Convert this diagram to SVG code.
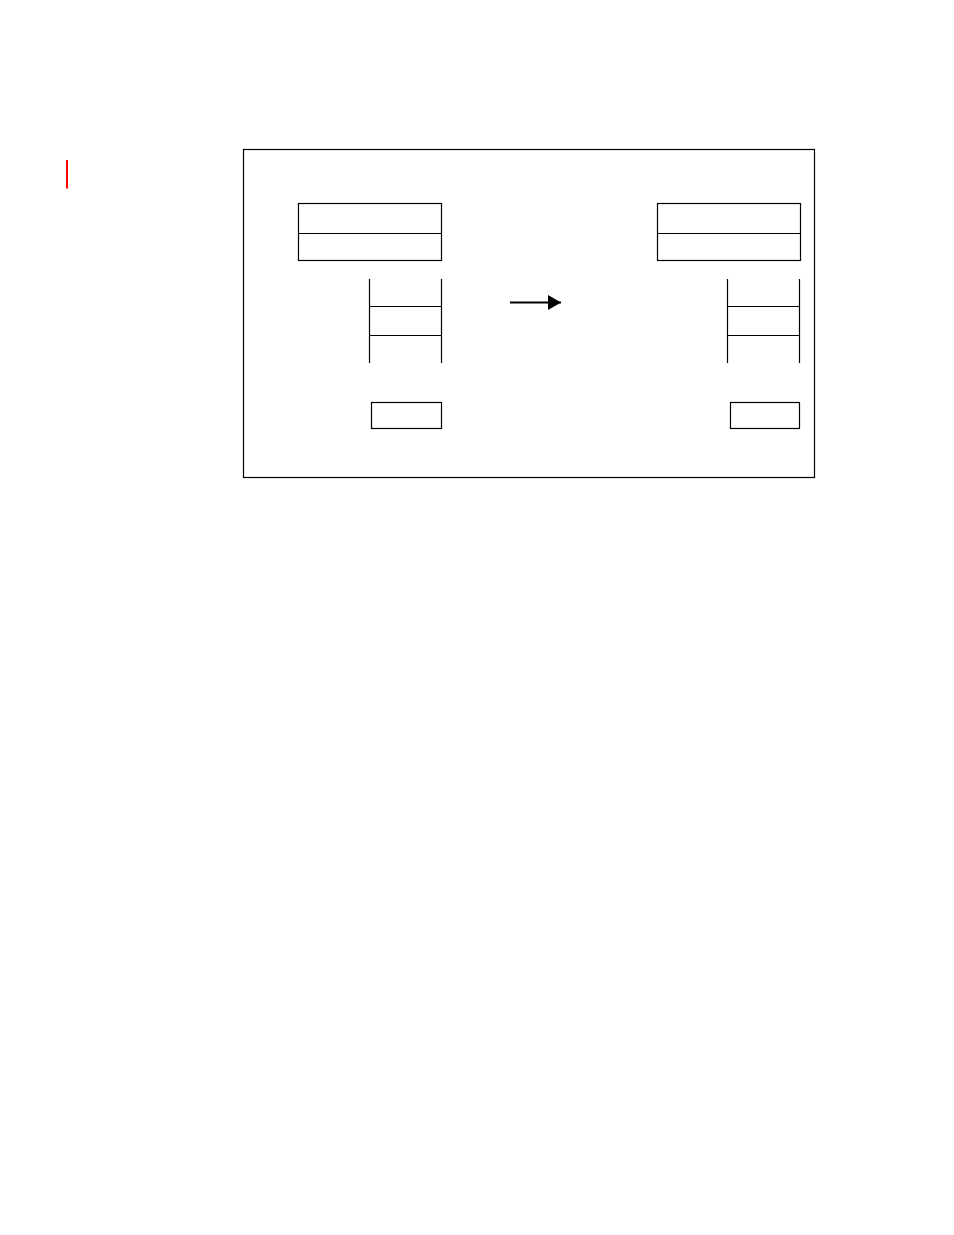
<svg xmlns="http://www.w3.org/2000/svg" width="954" height="1235" viewBox="0 0 954 1235">
<style>
.s{fill:none;stroke:#000;stroke-width:1.2}
</style>
<defs>
<marker id="ah" markerWidth="13" markerHeight="15" refX="13" refY="7.5" orient="auto" markerUnits="userSpaceOnUse">
<path d="M0,0 L13,7.5 L0,15 Z" fill="#000"/>
</marker>
</defs>
<rect width="954" height="1235" fill="#fff"/>
<line x1="67" y1="160" x2="67" y2="188.5" stroke="#f00" stroke-width="2"/>
<rect id="frame" class="s" x="243.5" y="149.5" width="571" height="328"/>
<g id="left-record">
<rect class="s" x="298.5" y="203.5" width="143" height="57"/>
<line class="s" x1="298.5" y1="233.5" x2="441.5" y2="233.5"/>
</g>
<g id="left-stack">
<line class="s" x1="369.5" y1="279" x2="369.5" y2="363"/>
<line class="s" x1="441.5" y1="279" x2="441.5" y2="363"/>
<line class="s" x1="369.5" y1="306.5" x2="441.5" y2="306.5"/>
<line class="s" x1="369.5" y1="335.5" x2="441.5" y2="335.5"/>
</g>
<g id="left-box">
<rect class="s" x="371.5" y="402.5" width="70" height="26"/>
</g>
<g id="right-record">
<rect class="s" x="657.5" y="203.5" width="143" height="57"/>
<line class="s" x1="657.5" y1="233.5" x2="800.5" y2="233.5"/>
</g>
<g id="right-stack">
<line class="s" x1="727.5" y1="279" x2="727.5" y2="363"/>
<line class="s" x1="799.5" y1="279" x2="799.5" y2="363"/>
<line class="s" x1="727.5" y1="306.5" x2="799.5" y2="306.5"/>
<line class="s" x1="727.5" y1="335.5" x2="799.5" y2="335.5"/>
</g>
<g id="right-box">
<rect class="s" x="730.5" y="402.5" width="69" height="26"/>
</g>
<g id="connectors">
<line x1="510" y1="302.5" x2="561" y2="302.5" stroke="#000" stroke-width="2" marker-end="url(#ah)"/>
</g>
</svg>
